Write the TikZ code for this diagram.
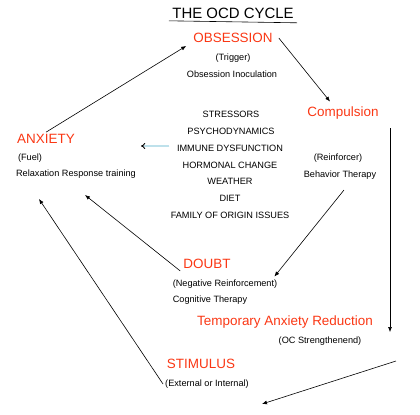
\documentclass[tikz,border=0pt]{standalone}
\usepackage{fontspec}
\setmainfont{Liberation Sans}
\usetikzlibrary{arrows.meta}
\definecolor{ocdred}{RGB}{250,55,20}
\definecolor{pale}{RGB}{190,225,235}
\tikzset{
  stage/.style={text=ocdred, font=\fontsize{13.5}{15}\selectfont, inner sep=2pt},
  note/.style={font=\fontsize{9.2}{11}\selectfont, inner sep=2pt},
  flow/.style={-{Latex[length=5pt,width=4pt]}, line width=0.6pt}
}

\begin{document}
\begin{tikzpicture}[x=1bp,y=-1bp]
        \useasboundingbox (0,0) rectangle (420,415);
        % title
        \node[font=\fontsize{15}{17}\selectfont] (title) at (233,13) {THE OCD CYCLE};
        \draw[line width=0.6pt] (title.south west) ++(0,-1) -- ([yshift=-1pt]title.south east);
        % stages of the cycle
        \node[stage] (obs) at (233,38) {OBSESSION};
        \node[note] (trig) at (233,58) {(Trigger)};
        \node[note] (inoc) at (232,74) {Obsession Inoculation};
        \node[stage] (comp) at (343,113) {Compulsion};
        \node[note] (reinf) at (338,158) {(Reinforcer)};
        \node[note] (behav) at (340,175) {Behavior Therapy};
        \node[stage] (anx) at (46,139) {ANXIETY};
        \node[note] (fuel) at (30,158) {(Fuel)};
        \node[note] (relax) at (76,174) {Relaxation Response training};
        \node[stage] (doubt) at (207,264) {DOUBT};
        \node[note] (neg) at (225,284) {(Negative Reinforcement)};
        \node[note] (cogn) at (210,300) {Cognitive Therapy};
        \node[stage] (tar) at (285,322) {Temporary Anxiety Reduction};
        \node[note] (ocs) at (320,341) {(OC Strengthenend)};
        \node[stage] (stim) at (201,364) {STIMULUS};
        \node[note] (ext) at (207,384) {(External or Internal)};
        % factors in the middle
        \node[note] (f1) at (231,114) {STRESSORS};
        \node[note] (f2) at (231,131) {PSYCHODYNAMICS};
        \node[note] (f3) at (230,148) {IMMUNE DYSFUNCTION};
        \node[note] (f4) at (230,165) {HORMONAL CHANGE};
        \node[note] (f5) at (230,181) {WEATHER};
        \node[note] (f6) at (230,198) {DIET};
        \node[note] (f7) at (230,215) {FAMILY OF ORIGIN ISSUES};
        % free ends
        \coordinate (rtop) at (390,128);
        \coordinate (rbot) at (390,332);
        \coordinate (low1) at (396,361);
        \coordinate (low2) at (262,404);
        \coordinate (anxin1) at (39,199);
        \coordinate (anxin2) at (85,195);
        \coordinate (bout) at (344,190);
        \coordinate (fout) at (169,146);
        \coordinate (fin) at (141,146);
        % arrows
        \draw[flow] (anx.north) -- ([xshift=-5pt,yshift=-1pt]obs.south west);
        \draw[flow] ([xshift=4pt]obs.east) -- ([xshift=-13pt,yshift=3pt]comp.north);
        \draw[flow] (rtop) -- (rbot);
        \draw[flow] (low1) -- (low2);
        \draw[flow] (ext.west) -- (anxin1);
        \draw[flow] ([xshift=-1pt]doubt.south west) -- (anxin2);
        \draw[flow] (bout) -- ([xshift=-5pt,yshift=1pt]neg.north east);
        \draw[-Implies, line width=0.9pt, double=pale, double distance=1.1pt] (fout) -- (fin);
\end{tikzpicture}
\end{document}
